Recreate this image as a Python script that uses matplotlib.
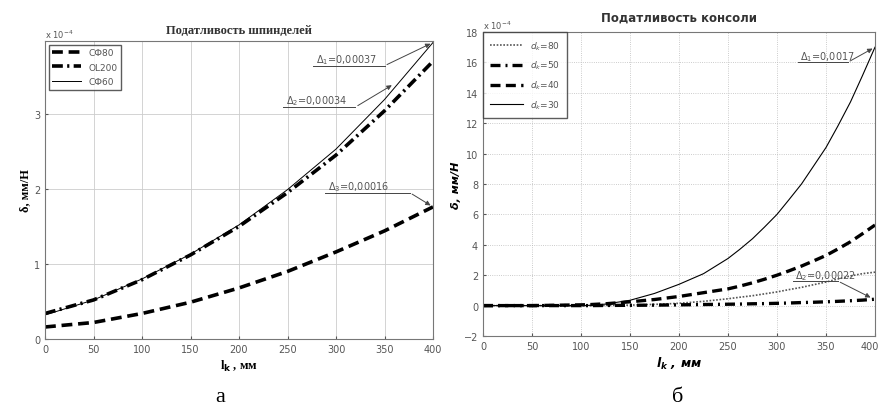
import matplotlib.pyplot as plt
import matplotlib.transforms as mtransforms

plt.switch_backend('AGG')

# левый график: податливость шпинделей (единицы 1e-4 мм/Н)
x_left = [0, 50, 100, 150, 200, 250, 300, 350, 400]
sf80 = [0.16, 0.22, 0.34, 0.49, 0.68, 0.90, 1.16, 1.44, 1.76]
ol200 = [0.34, 0.52, 0.79, 1.12, 1.50, 1.95, 2.45, 3.04, 3.70]
sf60 = [0.32, 0.52, 0.80, 1.13, 1.52, 1.99, 2.53, 3.19, 3.95]
left_labels = ['СФ80', 'OL200', 'СФ60']

# правый график: податливость консоли (единицы 1e-4 мм/Н)
x_right = [0, 50, 100, 110, 125, 150, 175, 200, 225, 250, 262, 275, 287, 300,
           312, 325, 337, 350, 362, 375, 387, 400]
d30 = [0, 0, 0, 0.02, 0.1, 0.35, 0.8, 1.4, 2.1, 3.1, 3.7, 4.4, 5.15, 6.0,
       6.95, 8.0, 9.15, 10.4, 11.8, 13.4, 15.1, 17.0]
d40 = [0, 0, 0.05, 0.07, 0.12, 0.25, 0.4, 0.6, 0.85, 1.1, 1.28, 1.5, 1.73, 2.0,
       2.28, 2.6, 2.93, 3.3, 3.72, 4.2, 4.72, 5.3]
d50 = [0, 0, 0, 0, 0.01, 0.02, 0.03, 0.05, 0.07, 0.09, 0.1, 0.12, 0.13, 0.15,
       0.17, 0.2, 0.22, 0.25, 0.28, 0.32, 0.36, 0.42]
d80 = [0, 0, 0, 0, 0.01, 0.03, 0.08, 0.15, 0.28, 0.45, 0.55, 0.65, 0.77, 0.9,
       1.05, 1.2, 1.37, 1.55, 1.75, 1.95, 2.1, 2.2]
right_labels = ['$d_k$=80', '$d_k$=50', '$d_k$=40', '$d_k$=30']

x_ticks = [0, 50, 100, 150, 200, 250, 300, 350, 400]
x_tick_labels = ['0', '50', '100', '150', '200', '250', '300', '350', '400']

serif = ['Liberation Serif', 'DejaVu Serif']
gray = '#555555'

fig = plt.figure(figsize=(8.81, 4.14), dpi=100)

# ---------- левый ----------
ax1 = fig.add_axes([45 / 881, 1 - 340 / 414, 388 / 881, 298 / 414])
ax1.plot(x_left, sf80, color='black', lw=2.6, ls=(0, (3, 1.6)), label=left_labels[0])
ax1.plot(x_left, ol200, color='black', lw=2.6, ls=(0, (3, 1.2, 0.6, 1.2)), label=left_labels[1])
ax1.plot(x_left, sf60, color='black', lw=0.7, label=left_labels[2])
ax1.set_xlim(0, 400)
ax1.set_ylim(0, 3.97)
ax1.set_xticks(x_ticks, x_tick_labels)
ax1.set_yticks([0, 1, 2, 3])
ax1.grid(True, color='#cccccc', lw=0.6)
ax1.tick_params(labelsize=7, colors=gray, length=2, direction='in')
for s in ax1.spines.values():
    s.set_color('#777777')
ax1.text(0, 1.01, 'x 10$^{-4}$', transform=ax1.transAxes, fontsize=6, color=gray)
ax1.set_title('Податливость шпинделей', fontsize=9, fontweight='bold', family=serif, color='#333333', pad=6)
ax1.set_xlabel('l$_\\mathbf{k}$ , мм', fontsize=9, fontweight='bold', family=serif, labelpad=3)
ax1.set_ylabel('δ, мм/Н', fontsize=9, fontweight='bold', family=serif, labelpad=2)
leg1 = ax1.legend(loc='upper left', fontsize=6.5, handlelength=3.2, frameon=True, fancybox=False,
                  borderaxespad=0.4, labelspacing=0.6)
leg1.get_frame().set_edgecolor('#333333')
for t in leg1.get_texts():
    t.set_color(gray)

ann_kw = dict(fontsize=7, color=gray)
for txt, x0, x1, y0, xe, ye in [('Δ$_1$=0,00037', 276, 350, 3.64, 400, 3.95),
                                ('Δ$_2$=0,00034', 245, 320, 3.09, 360, 3.40),
                                ('Δ$_3$=0,00016', 289, 376, 1.95, 400, 1.76)]:
    ax1.plot([x0, x1], [y0, y0], color='#444444', lw=0.7)
    ax1.annotate('', xy=(xe, ye), xytext=(x1, y0),
                 arrowprops=dict(arrowstyle='-|>', color='#444444', lw=0.7, mutation_scale=7))
    ax1.text(x0 + 3, y0 + 0.05, txt, **ann_kw)

# ---------- правый ----------
ax2 = fig.add_axes([483 / 881, 1 - 337 / 414, 392 / 881, 304 / 414])
ax2.plot(x_right, d80, color='#555555', lw=1.2, ls=(0, (1, 1)), label=right_labels[0])
ax2.plot(x_right, d50, color='black', lw=2.4, ls=(0, (3, 1.5, 0.6, 1.5)), label=right_labels[1])
ax2.plot(x_right, d40, color='black', lw=2.4, ls=(0, (3, 1.6)), label=right_labels[2])
ax2.plot(x_right, d30, color='black', lw=0.8, label=right_labels[3])
ax2.set_xlim(0, 400)
ax2.set_ylim(-2, 18)
xt = ax2.set_xticks(x_ticks, x_tick_labels)
ax2.set_yticks(range(-2, 19, 2))
ax2.grid(True, color='#bbbbbb', lw=0.6, ls=':')
ax2.tick_params(labelsize=7, colors=gray, length=2, direction='in')
for s in ax2.spines.values():
    s.set_color('#777777')
# последнюю подпись по X немного сдвигаем влево, чтобы не обрезалась краем
shift = mtransforms.ScaledTranslation(-5 / 100, 0, fig.dpi_scale_trans)
lbl = ax2.xaxis.get_major_ticks()[-1].label1
lbl.set_transform(lbl.get_transform() + shift)
ax2.text(0, 1.01, 'x 10$^{-4}$', transform=ax2.transAxes, fontsize=6, color=gray)
ax2.set_title('Податливость консоли', fontsize=8.5, fontweight='bold', color='#333333', pad=8)
ax2.set_xlabel('$\\mathbfit{l_k}$ , мм', fontsize=9, fontweight='bold', style='italic', labelpad=3)
ax2.set_ylabel('δ, мм/Н', fontsize=8, fontweight='bold', style='italic', labelpad=2)
leg2 = ax2.legend(loc='upper left', fontsize=6.5, handlelength=3.6, frameon=True, fancybox=False,
                  borderaxespad=0.0, labelspacing=0.8, borderpad=0.8)
leg2.get_frame().set_edgecolor('#333333')
for t in leg2.get_texts():
    t.set_color(gray)

for txt, x0, x1, y0, xe, ye in [('Δ$_1$=0,0017', 321, 372, 16.0, 400, 17.0),
                                ('Δ$_2$=0,00022', 316, 362, 1.62, 398, 0.45)]:
    ax2.plot([x0, x1], [y0, y0], color='#444444', lw=0.7)
    ax2.annotate('', xy=(xe, ye), xytext=(x1, y0),
                 arrowprops=dict(arrowstyle='-|>', color='#444444', lw=0.7, mutation_scale=7))
    ax2.text(x0 + 2, y0 + 0.2, txt, **ann_kw)

fig.text(220 / 881, 1 - 398 / 414, 'а', fontsize=16, family=serif, ha='center', va='center')
fig.text(678 / 881, 1 - 398 / 414, 'б', fontsize=16, family=serif, ha='center', va='center')

fig.savefig('out.png', dpi=100)
plt.close(fig)
